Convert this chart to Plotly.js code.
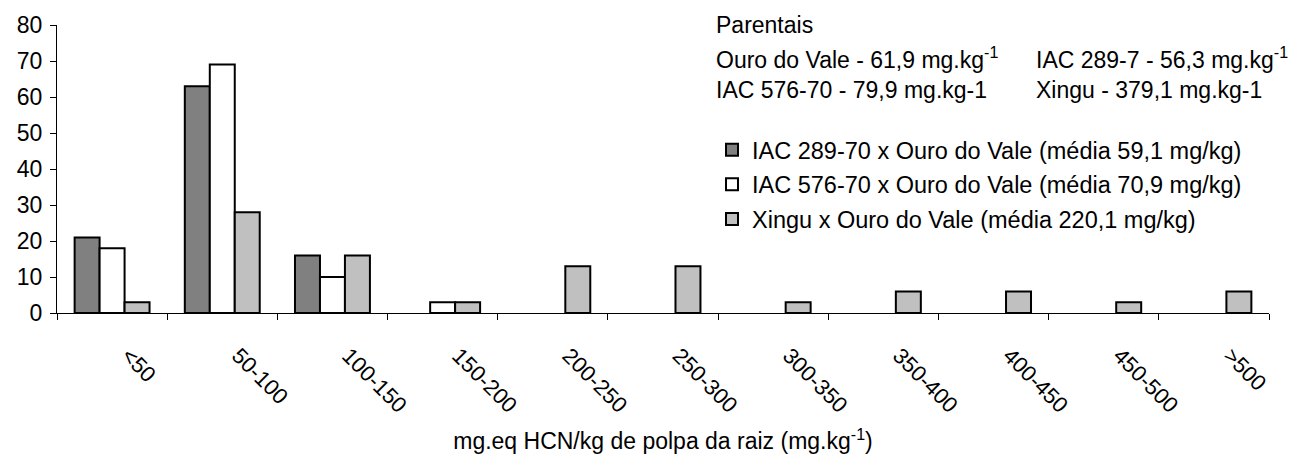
<!DOCTYPE html>
<html><head><meta charset="utf-8">
<script src="https://cdn.plot.ly/plotly-3.0.1.min.js"></script>
<style>html,body{margin:0;padding:0;background:#fff}#chart{width:1290px;height:459px}</style>
</head><body><div id="chart"></div>
<script>
// ---- data ----
const categories = ['<50','50-100','100-150','150-200','200-250','250-300','300-350','350-400','400-450','450-500','>500'];
const seriesNames = [
  'IAC 289-70 x Ouro do Vale (média 59,1 mg/kg)',
  'IAC 576-70 x Ouro do Vale (média 70,9 mg/kg)',
  'Xingu x Ouro do Vale (média 220,1 mg/kg)'
];
const iac289xOuro = [21, 63, 16, 0, 0, 0, 0, 0, 0, 0, 0];
const iac576xOuro = [18, 69, 10, 3, 0, 0, 0, 0, 0, 0, 0];
const xinguxOuro  = [3, 28, 16, 3, 13, 13, 3, 6, 6, 3, 6];
const yTicks = [0, 10, 20, 30, 40, 50, 60, 70, 80];
const parentaisTitle = 'Parentais';
const parentaisLeft  = ['Ouro do Vale - 61,9 mg.kg<sup>-1</sup>', 'IAC 576-70 - 79,9 mg.kg-1'];
const parentaisRight = ['IAC 289-7 - 56,3 mg.kg<sup>-1</sup>', 'Xingu - 379,1 mg.kg-1'];
const xTitle = 'mg.eq HCN/kg de polpa da raiz (mg.kg<sup>-1</sup>)';

// ---- layout helpers ----
const L = 57, R = 1269, T = 25, B = 313;
const px = x => (x - L) / (R - L);
const py = y => (B - y) / (B - T);
const FONT = '"Liberation Sans", Arial, sans-serif';
const drawVals = v => v.map(d => (d === 0 ? null : d));
const colors = ['#808080', '#ffffff', '#c0c0c0'];
const seriesVals = [iac289xOuro, iac576xOuro, xinguxOuro];

const traces = seriesVals.map((vals, i) => ({
  type: 'bar',
  name: seriesNames[i],
  x: categories,
  y: drawVals(vals),
  legendgroup: 'g' + i,
  marker: {color: colors[i], line: {color: '#000', width: 2}},
  hoverinfo: 'x+y+name'
}));

const ann = [];
ann.push({text: parentaisTitle, x: px(714), y: py(25)});
parentaisLeft.forEach((t, i) => ann.push({text: t, x: px(714), y: py(58 + i * 32)}));
parentaisRight.forEach((t, i) => ann.push({text: t, x: px(1034), y: py(58 + i * 32)}));
ann.forEach(a => Object.assign(a, {xref: 'paper', yref: 'paper', xanchor: 'left', yanchor: 'middle',
  showarrow: false, font: {size: 23, family: FONT, color: '#000'}}));

const layout = {
  width: 1290, height: 459,
  margin: {l: L, r: 1290 - R, t: T, b: 459 - B, pad: 0},
  paper_bgcolor: '#fff', plot_bgcolor: '#fff',
  font: {family: FONT, size: 22, color: '#000'},
  barmode: 'group', bargap: 0.32, bargroupgap: 0,
  showlegend: true,
  legend: {x: px(712), y: py(128), xanchor: 'left', yanchor: 'top',
    font: {size: 23.5, family: FONT}, bgcolor: 'rgba(0,0,0,0)', tracegroupgap: 1, itemwidth: 30},
  xaxis: {type: 'category', tickson: 'boundaries', ticks: 'outside', ticklen: 6, tickcolor: '#000',
    showline: true, linecolor: '#000', linewidth: 1, tickangle: 45, ticklabelstandoff: 20,
    ticklabelshift: 16, tickfont: {size: 22},
    title: {text: xTitle, font: {size: 23}, standoff: 16},
    showgrid: false, zeroline: false, fixedrange: true},
  yaxis: {range: [0, 80], tickvals: yTicks, ticks: 'outside', ticklen: 6, tickcolor: '#000',
    showline: true, linecolor: '#000', linewidth: 1, showgrid: false, zeroline: false,
    ticklabelstandoff: 3, tickfont: {size: 23}, fixedrange: true},
  annotations: ann
};

Plotly.newPlot('chart', traces, layout, {displayModeBar: false, staticPlot: true});
</script>
</body></html>
